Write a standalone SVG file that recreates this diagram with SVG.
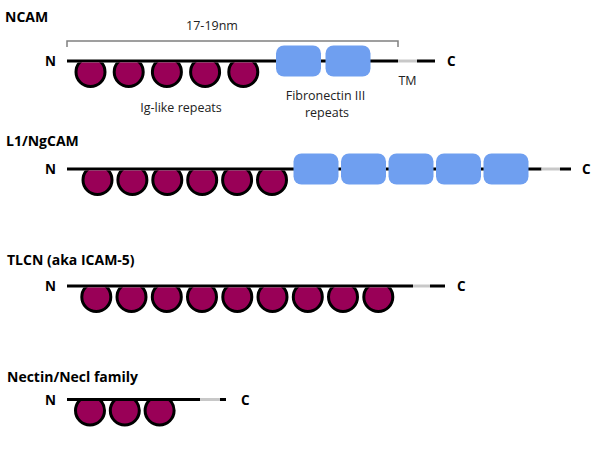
<svg xmlns="http://www.w3.org/2000/svg" width="599" height="458" viewBox="0 0 599 458">
<style>
.ig{fill:#990057;stroke:#000;stroke-width:3}
.fn{fill:#6f9ff0}
.bb{stroke:#000;stroke-width:3;fill:none}
.tm{stroke:#c8c8c8;stroke-width:3;fill:none}
.title{font-family:"Open Sans","Liberation Sans",sans-serif;font-weight:bold;font-size:14px;fill:#000}
.end{font-family:"Open Sans","Liberation Sans",sans-serif;font-weight:bold;font-size:13.5px;fill:#000}
.lbl{font-family:"Open Sans","Liberation Sans",sans-serif;font-size:12.5px;fill:#222}
.br{stroke:#808080;stroke-width:1.5;fill:none}
</style>
<defs>
<clipPath id="below"><rect x="-20" y="1.4" width="40" height="30"/></clipPath>
<g id="igd"><circle cx="0" cy="11" r="14.5" class="ig" clip-path="url(#below)"/></g>
<rect id="fnd" x="0" y="-15.5" width="45" height="31" rx="8" class="fn"/>
</defs>
<rect width="599" height="458" fill="#fff"/>

<g id="connectors">
<path class="bb" d="M67,61 H398 M417,61 H435"/>
<path class="tm" d="M398,61 H417"/>
<path class="bb" d="M67,169 H541.5 M560,169 H571"/>
<path class="tm" d="M541.5,169 H560"/>
<path class="bb" d="M67,286 H413 M430,286 H445"/>
<path class="tm" d="M413,286 H430"/>
<path class="bb" d="M67,399.5 H200 M220,399.5 H226"/>
<path class="tm" d="M200,399.5 H220"/>
</g>

<g id="NCAM">
<text class="title" x="5" y="22">NCAM</text>
<text class="end" x="45" y="66">N</text>
<text class="end" x="447" y="66">C</text>
<g id="ncam-ig"><use href="#igd" x="90.5" y="61"/><use href="#igd" x="128.7" y="61"/><use href="#igd" x="166.9" y="61"/><use href="#igd" x="205.1" y="61"/><use href="#igd" x="243.3" y="61"/></g>
<g id="ncam-fn"><use href="#fnd" x="276" y="61"/><use href="#fnd" x="325.5" y="61"/></g>
<path class="br" d="M67,47 V41 H398 V47"/>
<text class="lbl" x="212" y="30" text-anchor="middle">17-19nm</text>
<text class="lbl" x="181" y="112" text-anchor="middle">Ig-like repeats</text>
<text class="lbl" x="325.5" y="100" text-anchor="middle">Fibronectin III</text>
<text class="lbl" x="327" y="117" text-anchor="middle">repeats</text>
<text class="lbl" x="407.5" y="85" text-anchor="middle">TM</text>
</g>

<g id="L1NgCAM">
<text class="title" x="6" y="146">L1/NgCAM</text>
<text class="end" x="45" y="174">N</text>
<text class="end" x="582" y="174">C</text>
<g id="l1-ig"><use href="#igd" x="97.5" y="169"/><use href="#igd" x="132.4" y="169"/><use href="#igd" x="167.3" y="169"/><use href="#igd" x="202.2" y="169"/><use href="#igd" x="237.1" y="169"/><use href="#igd" x="272" y="169"/></g>
<g id="l1-fn"><use href="#fnd" x="293.5" y="169"/><use href="#fnd" x="341" y="169"/><use href="#fnd" x="388.5" y="169"/><use href="#fnd" x="436" y="169"/><use href="#fnd" x="483.5" y="169"/></g>
</g>

<g id="TLCN">
<text class="title" x="7" y="265">TLCN (aka ICAM-5)</text>
<text class="end" x="45" y="291">N</text>
<text class="end" x="457" y="291">C</text>
<g id="tlcn-ig"><use href="#igd" x="96.3" y="286"/><use href="#igd" x="131.5" y="286"/><use href="#igd" x="166.8" y="286"/><use href="#igd" x="202" y="286"/><use href="#igd" x="237.3" y="286"/><use href="#igd" x="272.5" y="286"/><use href="#igd" x="307.8" y="286"/><use href="#igd" x="343" y="286"/><use href="#igd" x="378.3" y="286"/></g>
</g>

<g id="Nectin">
<text class="title" x="7" y="382">Nectin/Necl family</text>
<text class="end" x="45" y="405">N</text>
<text class="end" x="241" y="405">C</text>
<g id="nectin-ig"><use href="#igd" x="90" y="399.5"/><use href="#igd" x="124.8" y="399.5"/><use href="#igd" x="159.6" y="399.5"/></g>
</g>
</svg>
